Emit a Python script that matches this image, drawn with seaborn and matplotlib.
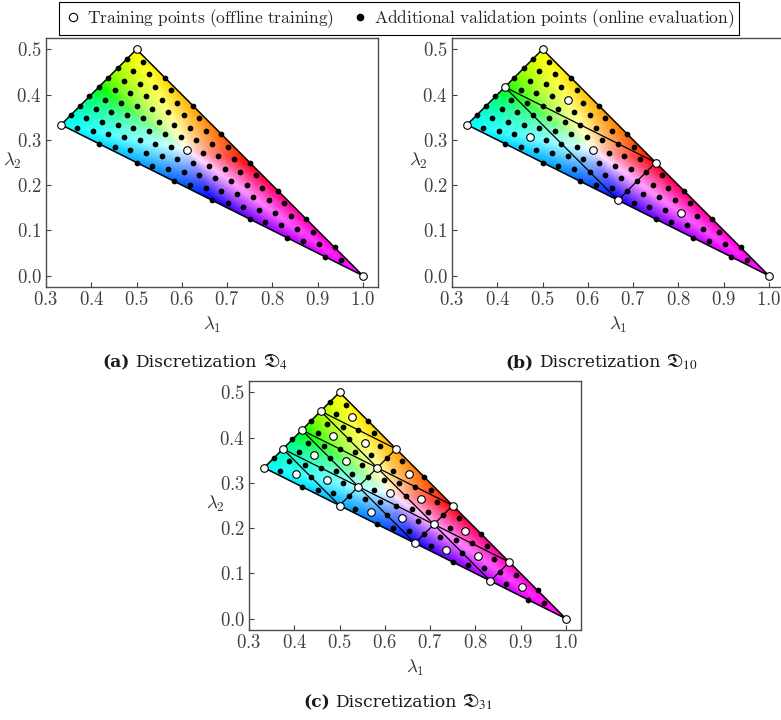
import numpy as np
import pandas as pd
import matplotlib
matplotlib.use("Agg")
import matplotlib.pyplot as plt
import seaborn as sns
from matplotlib.colors import rgb_to_hsv, hsv_to_rgb
from matplotlib.patches import Polygon
from matplotlib.lines import Line2D
from matplotlib.offsetbox import TextArea, HPacker, AnchoredOffsetbox

# ---------------- data ----------------
# triangle vertices A, B, C in (lambda1, lambda2)
VERT_L1 = [1/3, 1/2, 1.0]
VERT_L2 = [1/3, 1/2, 0.0]
BARY_DEN = 24   # barycentric coordinates below are (i, j) / 24 for (A, B); C = 24 - i - j

# all sample points of the fine set (training + validation), (i, j)
SAMPLES = [
    (0, 0), (0, 3), (0, 6), (0, 9), (0, 12), (0, 15), (0, 18), (0, 21), (0, 24),
    (3, 0), (3, 3), (3, 6), (3, 9), (3, 12), (3, 15), (3, 18), (3, 21),
    (6, 0), (6, 3), (6, 6), (6, 9), (6, 12), (6, 15), (6, 18),
    (9, 0), (9, 3), (9, 6), (9, 9), (9, 12), (9, 15),
    (12, 0), (12, 3), (12, 6), (12, 9), (12, 12),
    (15, 0), (15, 3), (15, 6), (15, 9),
    (18, 0), (18, 3), (18, 6),
    (21, 0), (21, 3),
    (24, 0),
    (1, 1), (1, 4), (1, 7), (1, 10), (1, 13), (1, 16), (1, 19), (1, 22),
    (4, 1), (4, 4), (4, 7), (4, 10), (4, 13), (4, 16), (4, 19),
    (7, 1), (7, 4), (7, 7), (7, 10), (7, 13), (7, 16),
    (10, 1), (10, 4), (10, 7), (10, 10), (10, 13),
    (13, 1), (13, 4), (13, 7), (13, 10),
    (16, 1), (16, 4), (16, 7),
    (19, 1), (19, 4),
    (22, 1),
    (2, 2), (2, 5), (2, 8), (2, 11), (2, 14), (2, 17), (2, 20),
    (5, 2), (5, 5), (5, 8), (5, 11), (5, 14), (5, 17),
    (8, 2), (8, 5), (8, 8), (8, 11), (8, 14),
    (11, 2), (11, 5), (11, 8), (11, 11),
    (14, 2), (14, 5), (14, 8),
    (17, 2), (17, 5),
    (20, 2),
]

TRAIN_D4 = [(24, 0), (0, 24), (0, 0), (8, 8)]
TRAIN_D10 = [(24, 0), (0, 24), (0, 0), (12, 12), (0, 12), (12, 0),
             (16, 4), (4, 16), (4, 4), (8, 8)]
TRAIN_D31 = [(0, 0), (0, 6), (0, 12), (0, 18), (0, 24), (6, 0), (6, 6), (6, 12),
             (6, 18), (12, 0), (12, 6), (12, 12), (18, 0), (18, 6), (24, 0),
             (2, 2), (2, 8), (2, 14), (2, 20), (8, 2), (8, 8), (8, 14), (14, 2),
             (14, 8), (20, 2),
             (4, 4), (4, 10), (4, 16), (10, 4), (10, 10), (16, 4)]

PANEL_TRAIN = [TRAIN_D4, TRAIN_D10, TRAIN_D31]
PANEL_GRID_N = [1, 2, 4]
PANEL_LETTER = ["(a)", "(b)", "(c)"]
PANEL_SUB = ["4", "10", "31"]

X_TICKS = [0.3, 0.4, 0.5, 0.6, 0.7, 0.8, 0.9, 1.0]
Y_TICKS = [0.0, 0.1, 0.2, 0.3, 0.4, 0.5]
LEGEND_LABELS = ["Training points (offline training)",
                 "Additional validation points (online evaluation)"]

# ---------------- helpers ----------------
def to_lambda(pairs):
    p = np.array(pairs, dtype=float) / BARY_DEN
    a, b = p[:, 0], p[:, 1]
    c = 1 - a - b
    l1 = a * VERT_L1[0] + b * VERT_L1[1] + c * VERT_L1[2]
    l2 = a * VERT_L2[0] + b * VERT_L2[1] + c * VERT_L2[2]
    return pd.DataFrame({"l1": l1, "l2": l2})


def bary_point(a, b):
    c = 1 - a - b
    return (a * VERT_L1[0] + b * VERT_L1[1] + c * VERT_L1[2],
            a * VERT_L2[0] + b * VERT_L2[1] + c * VERT_L2[2])


def color_field(nx=760, ny=580):
    xs = np.linspace(min(VERT_L1), max(VERT_L1), nx)
    ys = np.linspace(min(VERT_L2), max(VERT_L2), ny)
    X, Y = np.meshgrid(xs, ys)
    M = np.array([VERT_L1, VERT_L2, [1, 1, 1]])
    Minv = np.linalg.inv(M)
    pts = np.stack([X.ravel(), Y.ravel(), np.ones(X.size)])
    bc = Minv @ pts
    bc = np.clip(bc, 0, 1)
    bc = bc / bc.sum(axis=0, keepdims=True)
    a, b, c = bc
    rgb = np.stack([b + c, a + b, a + c], axis=-1)
    hsv = rgb_to_hsv(np.clip(rgb, 0, 1))
    sat = np.clip(1 - 3 * bc.min(axis=0), 0, 1) ** 0.8
    hsv[:, 1] = sat
    hsv[:, 2] = 1.0
    out = hsv_to_rgb(hsv).reshape(ny, nx, 3)
    ext = (xs[0], xs[-1], ys[0], ys[-1])
    return out, ext


def mtext(s):
    return r"$\mathrm{" + s.replace(" ", r"\ ") + "}$"


# ---------------- style ----------------
sns.set_theme(style="white")
plt.rcParams["font.family"] = ["DejaVu Serif"]
plt.rcParams["mathtext.fontset"] = "cm"
plt.rcParams["axes.unicode_minus"] = False

W, H = 781, 720
fig = plt.figure(figsize=(W / 100, H / 100), dpi=100)

ax_w = 332 / W
ax_h = 249 / H
positions = [(46 / W, (H - 38 - 249) / H),
             (452 / W, (H - 38 - 249) / H),
             (249 / W, (H - 381 - 249) / H)]
caption_y = [(H - 362) / H, (H - 362) / H, (H - 702) / H]

img, ext = color_field()
tri_xy = list(zip(VERT_L1, VERT_L2))

for p in range(3):
    ax = fig.add_axes([positions[p][0], positions[p][1], ax_w, ax_h])
    # colour field clipped to the triangle
    im = ax.imshow(img, extent=ext, origin="lower", interpolation="bilinear", zorder=1)
    clip = Polygon(tri_xy, closed=True, transform=ax.transData)
    im.set_clip_path(clip)

    # sub-triangle grid lines
    n = PANEL_GRID_N[p]
    for m in range(1, n):
        t = m / n
        for (p1, p2) in [((t, 1 - t), (t, 0.0)),          # a = t
                         ((1 - t, t), (0.0, t)),          # b = t
                         ((1 - t, 0.0), (0.0, 1 - t))]:   # c = t
            x1, y1 = bary_point(*p1)
            x2, y2 = bary_point(*p2)
            ax.plot([x1, x2], [y1, y2], color="black", lw=0.9, zorder=2)
    # outline
    ax.add_patch(Polygon(tri_xy, closed=True, fill=False, edgecolor="black",
                         lw=1.1, zorder=3))

    train = PANEL_TRAIN[p]
    val = [s for s in SAMPLES if s not in train]
    df_v = to_lambda(val)
    df_t = to_lambda(train)
    sns.scatterplot(data=df_v, x="l1", y="l2", color="black", s=17,
                    linewidth=0, zorder=4, ax=ax, legend=False)
    sns.scatterplot(data=df_t, x="l1", y="l2", color="white", edgecolor="black",
                    s=30, linewidth=0.8, zorder=5, ax=ax, legend=False)

    ax.set_xlim(0.3, 1 + 1 / 30)
    ax.set_ylim(-0.025, 0.525)
    ax.set_aspect("equal", adjustable="box")
    ax.set_xticks(X_TICKS)
    ax.set_yticks(Y_TICKS)
    ax.set_xticklabels([f"${v:.1f}$" for v in X_TICKS])
    ax.set_yticklabels([f"${v:.1f}$" for v in Y_TICKS])
    ax.tick_params(direction="in", length=3.5, width=0.8, labelsize=13.5,
                   colors="0.25", pad=3, bottom=True, left=True, top=False, right=False)
    for sp in ax.spines.values():
        sp.set_color("0.3")
        sp.set_linewidth(1.0)
    ax.set_xlabel(r"$\lambda_1$", fontsize=13.5, color="0.2", va="center")
    ax.xaxis.set_label_coords(0.5, -0.152)
    ax.set_ylabel(r"$\lambda_2$", fontsize=13.5, color="0.2", rotation=0,
                  va="center", ha="center")
    ax.yaxis.set_label_coords(-0.1, 0.505)

    # caption
    cx = positions[p][0] + ax_w / 2 - 17 / W
    tp = dict(family="DejaVu Serif", size=12.3, color="0.1")
    ta1 = TextArea(PANEL_LETTER[p], textprops=dict(tp, weight="bold"))
    ta2 = TextArea("Discretization", textprops=tp)
    ta3 = TextArea(r"$\mathfrak{D}_{" + PANEL_SUB[p] + "}$",
                   textprops=dict(size=13.5, color="0.1", math_fontfamily="stix"))
    box = HPacker(children=[ta1, ta2, ta3], align="baseline", pad=0, sep=4)
    anch = AnchoredOffsetbox(loc="center", child=box, pad=0, borderpad=0,
                             frameon=False, bbox_to_anchor=(cx, caption_y[p]),
                             bbox_transform=fig.transFigure)
    fig.add_artist(anch)

handles = [Line2D([], [], marker="o", ls="", mfc="white", mec="black", ms=6, mew=0.8),
           Line2D([], [], marker="o", ls="", mfc="black", mec="black", ms=5.5, mew=0)]
leg = fig.legend(handles, [mtext(s) for s in LEGEND_LABELS], loc="upper center",
                 bbox_to_anchor=(399 / W, 1 - 2 / H), ncol=2, frameon=True,
                 fancybox=False, edgecolor="black", framealpha=1,
                 prop={"size": 12.5}, handletextpad=0.3,
                 columnspacing=1.0, borderpad=0.3, handlelength=1.0,
                 borderaxespad=0)
leg.get_frame().set_linewidth(0.8)
for t in leg.get_texts():
    t.set_color("0.15")

fig.savefig("out.png", dpi=100)
